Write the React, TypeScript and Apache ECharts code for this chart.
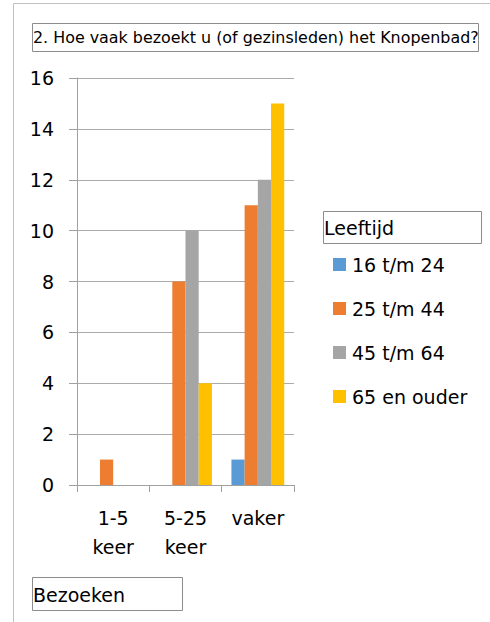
import React, { useEffect, useRef } from "react";
import * as echarts from "echarts";

const categories = ["1-5\nkeer", "5-25\nkeer", "vaker"];
const seriesNames = ["16 t/m 24", "25 t/m 44", "45 t/m 64", "65 en ouder"];
const age16to24 = [0, 0, 1];
const age25to44 = [1, 8, 11];
const age45to64 = [0, 10, 12];
const age65plus = [0, 4, 15];
const colors = ["#5B9BD5", "#ED7D31", "#A5A5A5", "#FFC000"];
const titleText = "2. Hoe vaak bezoekt u (of gezinsleden) het Knopenbad?";
const legendTitle = "Leeftijd";
const xAxisTitle = "Bezoeken";

const FONT = "DejaVu Sans";

export default function App() {
  const ref = useRef<HTMLDivElement>(null);
  useEffect(() => {
    if (!ref.current) return;
    const chart = echarts.init(ref.current, undefined, { renderer: "svg" });
    const values = [age16to24, age25to44, age45to64, age65plus];
    chart.setOption({
      animation: false,
      backgroundColor: "#ffffff",
      color: colors,
      grid: { left: 77, top: 78, width: 217, height: 407, containLabel: false },
      legend: {
        orient: "vertical",
        left: 333,
        top: 255,
        itemWidth: 13,
        itemHeight: 13,
        itemGap: 25,
        padding: 0,
        icon: "rect",
        data: seriesNames,
        textStyle: { fontFamily: FONT, fontSize: 19, color: "#000", lineHeight: 16, padding: [0, 0, 0, 1] },
      },
      xAxis: {
        type: "category",
        data: categories,
        axisLine: { lineStyle: { color: "#A0A0A0", width: 1 } },
        axisTick: { show: true, length: 7, alignWithLabel: false, lineStyle: { color: "#A0A0A0" } },
        axisLabel: {
          fontFamily: FONT,
          fontSize: 19,
          color: "#000",
          lineHeight: 29,
          margin: 18,
          interval: 0,
          verticalAlign: "top",
        },
        splitLine: { show: false },
      },
      yAxis: {
        type: "value",
        min: 0,
        max: 16,
        interval: 2,
        axisLine: { show: true, lineStyle: { color: "#A0A0A0", width: 1 } },
        axisTick: { show: true, length: 8, lineStyle: { color: "#A0A0A0" } },
        axisLabel: { fontFamily: FONT, fontSize: 19, color: "#000", margin: 23 },
        splitLine: { show: true, lineStyle: { color: "#ABABAB", width: 1 } },
      },
      series: seriesNames.map((name, i) => ({
        name,
        type: "bar",
        data: values[i],
        barGap: "0%",
        barCategoryGap: "27%",
        itemStyle: { color: colors[i] },
      })),
      graphic: [
        {
          type: "rect",
          shape: { x: 13.5, y: 3.5, width: 600, height: 700 },
          style: { fill: "none", stroke: "#C0C0C0", lineWidth: 1 },
          silent: true,
        },
        {
          type: "rect",
          shape: { x: 32.5, y: 23.5, width: 446, height: 28 },
          style: { fill: "none", stroke: "#8C8C8C", lineWidth: 1 },
          silent: true,
        },
        {
          type: "text",
          x: 33,
          y: 37.5,
          style: { text: titleText, fontFamily: FONT, fontSize: 15.9, fill: "#000", verticalAlign: "middle", align: "left" },
        },
        {
          type: "rect",
          shape: { x: 323.5, y: 211.5, width: 158, height: 32 },
          style: { fill: "none", stroke: "#8C8C8C", lineWidth: 1 },
          silent: true,
        },
        {
          type: "text",
          x: 324,
          y: 228,
          style: { text: legendTitle, fontFamily: FONT, fontSize: 19, fill: "#000", verticalAlign: "middle", align: "left" },
        },
        {
          type: "rect",
          shape: { x: 32.5, y: 577.5, width: 150, height: 33 },
          style: { fill: "none", stroke: "#8C8C8C", lineWidth: 1 },
          silent: true,
        },
        {
          type: "text",
          x: 33,
          y: 594.5,
          style: { text: xAxisTitle, fontFamily: FONT, fontSize: 19, fill: "#000", verticalAlign: "middle", align: "left" },
        },
      ],
    });
    return () => chart.dispose();
  }, []);
  return <div ref={ref} style={{ position: "absolute", left: 0, top: 0, width: 490, height: 622 }} />;
}
